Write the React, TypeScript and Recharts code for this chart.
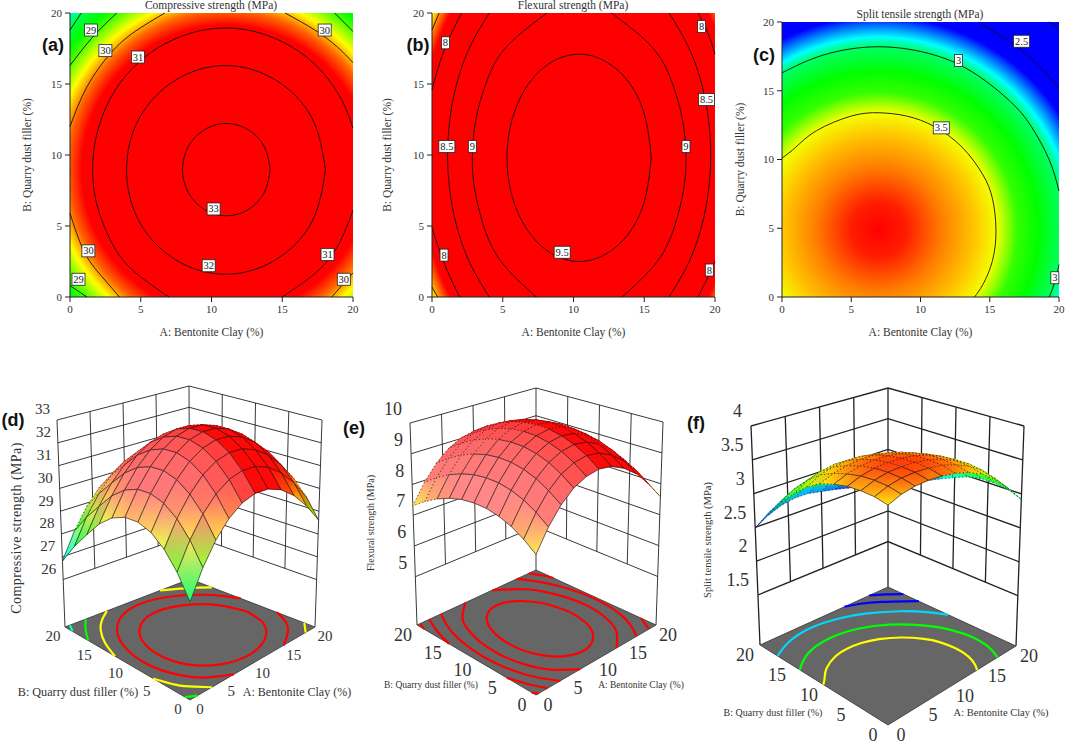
import { ScatterChart, Scatter, XAxis, YAxis, ReferenceArea, Curve } from 'recharts';

const SERIF = "'Liberation Serif', 'Times New Roman', serif";
const SANS = "'Liberation Sans', Arial, sans-serif";

type Pair = [number, number];

const AXIS_TICKS = [0, 5, 10, 15, 20];
const GRID_STEPS = [0, 2, 4, 6, 8, 10, 12, 14, 16, 18, 20];

// ── contour lines, as [A, B] ──
const A_RING_33: Pair[] = [[14.15, 8.97], [13.73, 10.6], [12.6, 11.78], [11.05, 12.22], [9.5, 11.78], [8.37, 10.6], [7.95, 8.97], [8.37, 7.35], [9.5, 6.16], [11.05, 5.72], [12.6, 6.16], [13.73, 7.35], [14.15, 8.97]];
const A_RING_32: Pair[] = [[18.05, 8.95], [17.1, 12.6], [14.5, 15.3], [11, 16.3], [7.5, 15.3], [4.9, 12.6], [4, 8.95], [4.9, 5.3], [7.5, 2.6], [11, 1.6], [14.5, 2.6], [17.1, 5.3], [18.05, 8.95]];
const A_RING_31: Pair[] = [[20, 11.9], [19.14, 14], [17.65, 16.04], [15.7, 17.6], [13.4, 18.6], [11, 18.95], [8.6, 18.6], [6.3, 17.6], [4.35, 16.04], [2.86, 14], [1.9, 11.5], [1.6, 9], [1.9, 6.5], [2.86, 4], [4.35, 1.96], [7, 0]];
const A_RING_31B: Pair[] = [[15, 0], [17.65, 1.96], [19.14, 4], [20, 6.1]];
const A_30_TL: Pair[] = [[0, 12], [1.2, 14.8], [2.9, 17.2], [4.6, 18.7], [6.7, 20]];
const A_30_TR: Pair[] = [[15.2, 20], [17.3, 18.8], [18.9, 17.6], [20, 16.5]];
const A_30_BL: Pair[] = [[0, 5.9], [1, 3.2], [2.2, 1.5], [3.5, 0]];
const A_30_BR: Pair[] = [[18.5, 0], [19.2, 0.8], [20, 1.7]];
const A_29_TL: Pair[] = [[0, 16.3], [1.6, 18.3], [3.3, 20]];
const A_29_TR: Pair[] = [[18.7, 20], [20, 18.7]];
const A_29_BL: Pair[] = [[0, 0.8], [1.2, 0]];
const A_28_TL: Pair[] = [[0, 18.8], [0.8, 20]];

const B_RING_95: Pair[] = [[15.5, 9.8], [14.82, 13.45], [12.95, 16.12], [10.4, 17.1], [7.85, 16.12], [5.98, 13.45], [5.3, 9.8], [5.98, 6.15], [7.85, 3.48], [10.4, 2.5], [12.95, 3.48], [14.82, 6.15], [15.5, 9.8]];
const B_RING_9L: Pair[] = [[8.12, 20], [5.16, 17.5], [3.8, 15], [3.1, 12.5], [2.85, 9.8], [3.03, 7.5], [3.65, 5], [4.88, 2.5], [7.37, 0]];
const B_RING_9R: Pair[] = [[12.68, 20], [15.64, 17.5], [17, 15], [17.7, 12.5], [17.95, 9.8], [17.77, 7.5], [17.15, 5], [15.92, 2.5], [13.43, 0]];
const B_RING_85L: Pair[] = [[4.05, 20], [2.67, 17.6], [1.74, 15], [1.26, 12.5], [1.1, 10], [1.26, 7.5], [1.74, 5], [2.67, 2.4], [4.05, 0]];
const B_RING_85R: Pair[] = [[16.75, 20], [18.13, 17.6], [19.06, 15], [19.54, 12.5], [19.7, 10], [19.54, 7.5], [19.06, 5], [18.13, 2.4], [16.75, 0]];
const B_8_TL: Pair[] = [[0, 14.6], [0.9, 17.5], [2.1, 20]];
const B_8_BL: Pair[] = [[0, 4.9], [0.85, 2.4], [1.95, 0]];
const B_8_TR: Pair[] = [[18.8, 20], [19.5, 18.6], [20, 17.1]];
const B_8_BR: Pair[] = [[18.8, 0], [19.4, 1.2], [20, 2.5]];
const B_75_TL: Pair[] = [[0, 18.8], [0.5, 20]];
const B_75_BL: Pair[] = [[0, 0.7], [0.4, 0]];

const C_RING_35: Pair[] = [[0, 10.1], [1, 10.9], [2.5, 12.1], [5, 13.16], [7, 13.4], [9, 13.16], [11, 12.4], [13, 10.9], [14.5, 8.9], [15.2, 7.14], [15.45, 4.9], [15.2, 2.66], [14.5, 0.9], [13.9, 0]];
const C_RING_3: Pair[] = [[0, 16.3], [3, 17.6], [7, 18.2], [11, 17.6], [14, 16.2], [16.5, 14.2], [18, 12.4], [19.3, 9.96], [20, 7.7]];
const C_RING_3B: Pair[] = [[19.3, 0], [19.7, 1.1], [20, 2.35]];
const C_RING_25: Pair[] = [[14.2, 20], [16, 18.85], [18, 17.33], [20, 15.2]];
const C_RING_2: Pair[] = [[19.3, 20], [20, 19.6]];

// floor-only contours of the split tensile surface
const F_RING_G: Pair[] = [[0, 13.8], [3, 15.5], [7, 16.2], [11, 15.5], [14, 13.8], [16, 11.7], [17.5, 9.1], [18.2, 6.4], [18.3, 4.9], [18, 2.3], [17.1, 0]];
const F_RING_C: Pair[] = [[0, 17.25], [3, 18.5], [7, 19.1], [11, 18.5], [14, 17.25], [17, 15], [19, 12.5], [20, 10.6]];
const F_RING_B1: Pair[] = [[13.2, 20], [15, 19.3], [17, 18], [19, 16.2], [20, 15.2]];
const F_RING_B2: Pair[] = [[17.1, 20], [18.5, 19], [20, 17.6]];

// ── contour labels: [A, B, text] ──
const A_LABELS: [number, number, string][] = [[1.48, 18.8, '29'], [2.5, 17.35, '30'], [4.8, 16.9, '31'], [10.15, 6.2, '33'], [9.8, 2.2, '32'], [1.3, 3.25, '30'], [0.6, 1.25, '29'], [18, 18.8, '30'], [18.2, 3, '31'], [19.35, 1.25, '30']];
const B_LABELS: [number, number, string][] = [[0.95, 17.9, '8'], [1.05, 10.6, '8.5'], [2.85, 10.6, '9'], [17.95, 10.6, '9'], [19.4, 13.9, '8.5'], [19.05, 19.05, '8'], [0.85, 2.95, '8'], [9.2, 3.15, '9.5'], [19.6, 1.9, '8']];
const C_LABELS: [number, number, string][] = [[17.3, 18.6, '2.5'], [12.75, 17.2, '3'], [11.5, 12.3, '3.5'], [19.7, 1.4, '3']];

// ── response level at a distance from the optimum, for the shaded background ──
const A_RADII = [0, 7.2, 10.2, 11.2, 12.2, 13.3, 14, 15, 15.6, 16.4];
const A_HEAT = [33.3, 32, 30.8, 30.35, 29.68, 28.9, 28.55, 28.2, 27.65, 27.2];
const B_RADII = [0, 1.22, 1.28, 1.335, 1.4];
const B_HEAT = [9.9, 7.8, 7.65, 7.5, 7.3];
const C_RADII = [0, 2, 4.5, 7, 8.5, 10, 11.5, 13.3, 14, 15, 15.5, 24];
const C_HEAT = [3.72, 3.69, 3.59, 3.51, 3.44, 3.24, 3.185, 3.08, 2.92, 2.74, 2.65, 2.5];

// ── surface heights, rows are B = 0..20, columns A = 0..20 ──
const D_SURFACE = [
  [27.54, 28.61, 29.46, 30.1, 30.53, 30.74, 30.74, 30.53, 30.1, 29.46, 28.61],
  [28.44, 29.46, 30.28, 30.89, 31.3, 31.5, 31.5, 31.3, 30.89, 30.28, 29.46],
  [29.11, 30.1, 30.89, 31.49, 31.88, 32.08, 32.08, 31.88, 31.49, 30.89, 30.1],
  [29.56, 30.53, 31.3, 31.88, 32.27, 32.46, 32.46, 32.27, 31.88, 31.3, 30.53],
  [29.78, 30.74, 31.5, 32.08, 32.46, 32.65, 32.65, 32.46, 32.08, 31.5, 30.74],
  [29.78, 30.74, 31.5, 32.08, 32.46, 32.65, 32.65, 32.46, 32.08, 31.5, 30.74],
  [29.56, 30.53, 31.3, 31.88, 32.27, 32.46, 32.46, 32.27, 31.88, 31.3, 30.53],
  [29.11, 30.1, 30.89, 31.49, 31.88, 32.08, 32.08, 31.88, 31.49, 30.89, 30.1],
  [28.44, 29.46, 30.28, 30.89, 31.3, 31.5, 31.5, 31.3, 30.89, 30.28, 29.46],
  [27.71, 28.78, 29.63, 30.27, 30.7, 30.91, 30.91, 30.7, 30.27, 29.63, 28.78],
  [26.81, 27.93, 28.83, 29.5, 29.95, 30.17, 30.17, 29.95, 29.5, 28.83, 27.93],
];
const E_SURFACE = [
  [7.31, 7.94, 8.44, 8.8, 9.02, 9.12, 9.08, 8.9, 8.6, 8.15, 7.58],
  [7.6, 8.23, 8.73, 9.09, 9.31, 9.41, 9.37, 9.19, 8.89, 8.44, 7.87],
  [7.83, 8.46, 8.96, 9.32, 9.54, 9.64, 9.6, 9.42, 9.12, 8.67, 8.1],
  [7.99, 8.62, 9.12, 9.48, 9.7, 9.8, 9.76, 9.58, 9.28, 8.83, 8.26],
  [8.09, 8.72, 9.22, 9.58, 9.8, 9.9, 9.86, 9.68, 9.38, 8.93, 8.36],
  [8.12, 8.75, 9.25, 9.61, 9.83, 9.93, 9.89, 9.71, 9.41, 8.96, 8.39],
  [8.09, 8.72, 9.22, 9.58, 9.8, 9.9, 9.86, 9.68, 9.38, 8.93, 8.36],
  [7.99, 8.62, 9.12, 9.48, 9.7, 9.8, 9.76, 9.58, 9.28, 8.83, 8.26],
  [7.83, 8.46, 8.96, 9.32, 9.54, 9.64, 9.6, 9.42, 9.12, 8.67, 8.1],
  [7.6, 8.23, 8.73, 9.09, 9.31, 9.41, 9.37, 9.19, 8.89, 8.44, 7.87],
  [7.31, 7.94, 8.44, 8.8, 9.02, 9.12, 9.08, 8.9, 8.6, 8.15, 7.58],
];
const F_SURFACE = [
  [3.49, 3.57, 3.62, 3.64, 3.64, 3.62, 3.57, 3.49, 3.34, 3.15, 2.92],
  [3.54, 3.62, 3.67, 3.69, 3.69, 3.67, 3.62, 3.54, 3.42, 3.23, 3.0],
  [3.56, 3.64, 3.69, 3.71, 3.71, 3.69, 3.64, 3.56, 3.45, 3.26, 3.03],
  [3.56, 3.64, 3.69, 3.71, 3.71, 3.69, 3.64, 3.56, 3.45, 3.26, 3.03],
  [3.53, 3.61, 3.66, 3.69, 3.69, 3.66, 3.61, 3.53, 3.41, 3.22, 2.99],
  [3.48, 3.56, 3.61, 3.64, 3.64, 3.61, 3.56, 3.48, 3.33, 3.14, 2.91],
  [3.37, 3.48, 3.53, 3.56, 3.56, 3.53, 3.48, 3.37, 3.22, 3.03, 2.82],
  [3.21, 3.33, 3.4, 3.44, 3.44, 3.4, 3.33, 3.21, 3.06, 2.86, 2.72],
  [3.02, 3.14, 3.21, 3.25, 3.25, 3.21, 3.14, 3.02, 2.86, 2.72, 2.62],
  [2.78, 2.9, 2.98, 3.02, 3.02, 2.98, 2.9, 2.78, 2.7, 2.6, 2.5],
  [2.49, 2.61, 2.69, 2.73, 2.73, 2.69, 2.65, 2.6, 2.55, 2.48, 2.4],
];
const D_Z_TICKS = [26, 27, 28, 29, 30, 31, 32, 33];
const E_Z_TICKS = [5, 6, 7, 8, 9, 10];
const F_Z_TICKS = [1.5, 2, 2.5, 3, 3.5, 4];

const RAMP = [[0, 0, 255], [0, 255, 255], [0, 255, 0], [255, 255, 0], [255, 0, 0]];
const rampT = (v: number, lo: number, hi: number) => Math.min(1, Math.max(0, (v - lo) / (hi - lo)));
const rampRgb = (v: number, lo: number, hi: number) => {
  const t = rampT(v, lo, hi) * 4;
  const i = Math.min(3, Math.floor(t));
  return RAMP[i].map((c, k) => c + (RAMP[i + 1][k] - c) * (t - i));
};
const css = (c: number[]) => `rgb(${c.map(Math.round).join(',')})`;
const whiten = (c: number[], w: number) => c.map((k) => k + (255 - k) * w);

const toPts = (p: Pair[]) => p.map(([x, y]) => ({ x, y }));
const Nothing = () => null;

function ContourLabel({ cx, cy, payload }: any) {
  const w = payload.t.length > 2 ? 16 : payload.t.length > 1 ? 13 : 8;
  return (
    <g>
      <rect x={cx - w / 2} y={cy - 6} width={w} height={12} fill="#fff" stroke="#222" strokeWidth={0.8} />
      <text x={cx} y={cy + 3.5} textAnchor="middle" fontSize={10.5} fontFamily={SERIF} fill="#222">{payload.t}</text>
    </g>
  );
}

// ── contour plot ──
function ContourPlot({ id, left, margin, width, title, titleX, titleY, labelOffset, yWidth, rings, labels, radii, heat, lo, hi, center, aspect }: any) {
  const R = radii[radii.length - 1];
  const transform = `translate(${center[0] / 20} ${1 - center[1] / 20}) scale(${(aspect[0] * R) / 20} ${(aspect[1] * R) / 20})`;
  return (
    <div style={{ position: 'absolute', left, top: 0 }}>
      <ScatterChart width={width} height={345} margin={margin}>
        <defs>
          <radialGradient id={id} cx={0} cy={0} r={1} gradientTransform={transform}>
            {radii.map((r: number, i: number) => <stop key={r} offset={r / R} stopColor={css(rampRgb(heat[i], lo, hi))} />)}
          </radialGradient>
        </defs>
        <XAxis type="number" dataKey="x" domain={[0, 20]} ticks={AXIS_TICKS} height={40} tickSize={5} tickMargin={3} interval={0}
          stroke="#222" tick={{ fontSize: 11, fontFamily: SERIF, fill: '#333' }}
          label={{ value: 'A: Bentonite Clay (%)', position: 'insideBottom', offset: 1, fontSize: 11.5, fontFamily: SERIF, fill: '#333' }} />
        <YAxis type="number" dataKey="y" domain={[0, 20]} ticks={AXIS_TICKS} width={yWidth} tickSize={5} tickMargin={3} interval={0}
          stroke="#222" tick={{ fontSize: 11, fontFamily: SERIF, fill: '#333' }}
          label={{ value: 'B: Quarry dust filler (%)', angle: -90, position: 'insideLeft', offset: labelOffset, fontSize: 11.5, fontFamily: SERIF, fill: '#333', textAnchor: 'middle' }} />
        <ReferenceArea x1={0} x2={20} y1={0} y2={20} fill={`url(#${id})`} fillOpacity={1} stroke="none" />
        {rings.map((r: Pair[], i: number) => (
          <Scatter key={i} data={toPts(r)} shape={Nothing} line={{ stroke: '#111', strokeWidth: 0.9 }} lineJointType="natural" isAnimationActive={false} />
        ))}
        <Scatter data={labels.map(([x, y, t]: any) => ({ x, y, t }))} shape={ContourLabel} isAnimationActive={false} />
        <text x={titleX} y={titleY} textAnchor="middle" fontSize={11.5} fontFamily={SERIF} fill="#333">{title}</text>
      </ScatterChart>
    </div>
  );
}

// ── 3D surface: everything is projected into a plane whose units are the chart's pixels ──
type Box = {
  front: number[]; left: number[]; right: number[]; back: number[];
  topFront: number[]; topLeft: number[]; topRight: number[]; topBack: number[];
  zFloor: number; zTop: number;
};

const bilinear = (p00: number[], p10: number[], p01: number[], p11: number[], u: number, v: number) =>
  [0, 1].map((k) => p00[k] * (1 - u) * (1 - v) + p10[k] * u * (1 - v) + p01[k] * (1 - u) * v + p11[k] * u * v);

const project = (box: Box, a: number, b: number, z: number) => {
  const f = bilinear(box.front, box.right, box.left, box.back, a / 20, b / 20);
  const t = bilinear(box.topFront, box.topRight, box.topLeft, box.topBack, a / 20, b / 20);
  const h = (z - box.zFloor) / (box.zTop - box.zFloor);
  return { x: f[0] + (t[0] - f[0]) * h, y: f[1] + (t[1] - f[1]) * h };
};

function Mark3D({ cx, cy, payload: m }: any) {
  const dx = cx - m.x;
  const dy = cy - m.y;
  if (m.kind === 'text') {
    return (
      <text x={cx} y={cy} textAnchor={m.anchor ?? 'middle'} dominantBaseline="middle" fontSize={m.size} fontFamily={SERIF} fill={m.fill ?? '#333'}
        letterSpacing={m.spacing} transform={m.angle ? `rotate(${m.angle} ${cx} ${cy})` : undefined}>{m.text}</text>
    );
  }
  const pts = m.pts.map((p: any) => ({ x: p.x + dx, y: p.y + dy }));
  if (m.kind === 'curve') return <Curve type="natural" points={pts} stroke={m.stroke} strokeWidth={m.width} fill="none" />;
  const d = pts.map((p: any) => `${p.x},${p.y}`).join(' ');
  if (m.kind === 'line') return <polyline points={d} fill="none" stroke={m.stroke} strokeWidth={m.width} />;
  if (m.kind === 'floor') return <polygon points={d} fill="#666" stroke="#333" strokeWidth={0.8} />;
  return (
    <g>
      <linearGradient id={m.id} gradientUnits="userSpaceOnUse" x1={m.from.x + dx} y1={m.from.y + dy} x2={m.to.x + dx} y2={m.to.y + dy}>
        <stop offset="0" stopColor={m.c0} />
        <stop offset="1" stopColor={m.c1} />
      </linearGradient>
      <polygon points={d} fill={`url(#${m.id})`} stroke={`url(#${m.id})`} strokeWidth={0.5} />
      <polygon points={d} fill="none" stroke="#111" strokeWidth={m.far ? 0.7 : 0.6} strokeDasharray={m.far ? '1.2 2.4' : undefined} />
    </g>
  );
}

function buildMarks(id: string, box: Box, table: number[][], zTicks: number[], lo: number, hi: number, light: number, farFrom: number, rings: { p: Pair[]; c: string }[], cageWidth: number, tickSize: number, aOff: number[], bOff: number[], zOff: number[]) {
  const marks: any[] = [];
  const line = (pts: any[], stroke = '#222', width = cageWidth) => marks.push({ kind: 'line', x: pts[0].x, y: pts[0].y, pts, stroke, width });
  const zLow = zTicks[0];

  // back walls
  zTicks.forEach((z) => line([project(box, 0, 20, z), project(box, 20, 20, z), project(box, 20, 0, z)]));
  [5, 10, 15].forEach((t) => {
    line([project(box, t, 20, zLow), project(box, t, 20, box.zTop)]);
    line([project(box, 20, t, zLow), project(box, 20, t, box.zTop)]);
  });
  [[0, 20], [20, 20], [20, 0]].forEach(([a, b]) => line([project(box, a, b, box.zFloor), project(box, a, b, box.zTop)]));

  // floor and its contours
  const corners = [[0, 0], [20, 0], [20, 20], [0, 20]].map(([a, b]) => project(box, a, b, box.zFloor));
  marks.push({ kind: 'floor', x: corners[0].x, y: corners[0].y, pts: corners });
  rings.forEach((r) => {
    const pts = r.p.map(([a, b]) => project(box, a, b, box.zFloor));
    marks.push({ kind: 'curve', x: pts[0].x, y: pts[0].y, pts, stroke: r.c, width: 2.2 });
  });

  // surface facets, far corner first
  const cells: { i: number; j: number }[] = [];
  for (let i = 0; i < 10; i++) for (let j = 0; j < 10; j++) cells.push({ i, j });
  cells.sort((p, q) => q.i + q.j - (p.i + p.j));
  let maxSlope = 0;
  cells.forEach(({ i, j }) => { maxSlope = Math.max(maxSlope, table[j][i + 1] - table[j][i]); });
  cells.forEach(({ i, j }, n) => {
    const corner = [[i, j], [i + 1, j], [i + 1, j + 1], [i, j + 1]].map(([ci, cj]) => ({
      z: table[cj][ci], ...project(box, GRID_STEPS[ci], GRID_STEPS[cj], table[cj][ci]),
    }));
    const sorted = [...corner].sort((p, q) => p.z - q.z);
    const slope = Math.max(0, (table[j][i + 1] - table[j][i] + table[j + 1][i + 1] - table[j + 1][i]) / 2) / maxSlope;
    const shade = (z: number) => {
      const t = rampT(z, lo, hi);
      return css(whiten(rampRgb(z, lo, hi), 0.03 + light * Math.sqrt(slope) * t * t));
    };
    marks.push({
      kind: 'facet', id: `${id}-${n}`, x: corner[0].x, y: corner[0].y, pts: corner,
      from: sorted[0], to: sorted[3], c0: shade(sorted[0].z), c1: shade(sorted[3].z),
      far: i + j > farFrom,
    });
  });

  // tick labels
  const text = (p: any, off: number[], t: string, anchor = 'middle') =>
    marks.push({ kind: 'text', x: p.x + off[0], y: p.y + off[1], text: t, size: tickSize, anchor });
  zTicks.forEach((z) => text(project(box, 0, 20, z), zOff, String(z), 'end'));
  AXIS_TICKS.forEach((t) => {
    text(project(box, t, 0, box.zFloor), aOff, String(t));
    text(project(box, 0, t, box.zFloor), bOff, String(t));
  });
  return marks;
}

function Surface3D({ marks, labels }: any) {
  const all = [...marks, ...labels.map((l: any) => ({ kind: 'text', ...l }))];
  return (
    <div style={{ position: 'absolute', left: 0, top: 0 }}>
      <ScatterChart width={1065} height={746} margin={{ top: 0, right: 0, bottom: 0, left: 0 }}>
        <XAxis type="number" dataKey="x" domain={[0, 1065]} hide />
        <YAxis type="number" dataKey="y" domain={[0, 746]} reversed hide />
        <Scatter data={all} shape={Mark3D} isAnimationActive={false} />
      </ScatterChart>
    </div>
  );
}

const BOX_D: Box = { front: [190, 700], left: [65, 627], right: [315, 627], back: [190, 579], topFront: [190, 454], topLeft: [57, 420], topRight: [322, 420], topBack: [189, 386], zFloor: 23.92, zTop: 33 };
const BOX_E: Box = { front: [536, 695], left: [417, 625], right: [656, 625], back: [536, 570], topFront: [536, 457], topLeft: [410, 423], topRight: [663, 422], topBack: [536, 388], zFloor: 3.43, zTop: 10 };
const BOX_F: Box = { front: [888, 725], left: [760, 645], right: [1016, 646], back: [888, 587], topFront: [888, 464], topLeft: [751, 426], topRight: [1024, 426], topBack: [888, 388], zFloor: 0.76, zTop: 4 };

const D_MARKS = buildMarks('d', BOX_D, D_SURFACE, D_Z_TICKS, 25.5, 30.5, 0.52, 9, [
  { p: A_RING_32, c: '#ff0000' }, { p: A_RING_31, c: '#ff0000' }, { p: A_RING_31B, c: '#ff0000' },
  { p: A_30_TL, c: '#ffff00' }, { p: A_30_TR, c: '#ffff00' }, { p: A_30_BL, c: '#ffff00' }, { p: A_30_BR, c: '#ffff00' },
  { p: A_29_TL, c: '#00ff00' }, { p: A_29_TR, c: '#00ff00' }, { p: A_29_BL, c: '#00ff00' }, { p: A_28_TL, c: '#00ffc0' },
], 0.9, 15, [10, 11], [-12, 11], [-7, -9]);
const E_MARKS = buildMarks('e', BOX_E, E_SURFACE, E_Z_TICKS, 4.8, 8, 0.5, 7, [
  { p: B_RING_95, c: '#ff0000' }, { p: B_RING_9L, c: '#ff0000' }, { p: B_RING_9R, c: '#ff0000' },
  { p: B_RING_85L, c: '#ff0000' }, { p: B_RING_85R, c: '#ff0000' }, { p: B_8_TL, c: '#ff0000' }, { p: B_8_BL, c: '#ff0000' },
  { p: B_8_TR, c: '#ff0000' }, { p: B_8_BR, c: '#ff0000' }, { p: B_75_TL, c: '#ff0000' }, { p: B_75_BL, c: '#ff0000' },
], 0.9, 18, [12, 12], [-14, 12], [-8, -12]);
const F_MARKS = buildMarks('f', BOX_F, F_SURFACE, F_Z_TICKS, 2.5, 3.78, 0.05, 3, [
  { p: C_RING_35, c: '#ffff00' }, { p: F_RING_G, c: '#00ff00' }, { p: F_RING_C, c: '#00d8ff' },
  { p: F_RING_B1, c: '#0000ff' }, { p: F_RING_B2, c: '#0000ff' },
], 1.3, 18, [13, 12], [-15, 12], [-9, -13]);

const D_LABELS = [
  { x: 78, y: 693, text: 'B: Quarry dust filler (%)', size: 12.2 },
  { x: 297, y: 693, text: 'A: Bentonite Clay (%)', size: 12 },
  { x: 18, y: 528, text: 'Compressive strength (MPa)', size: 14, angle: -90, spacing: 0.4 },
];
const E_LABELS = [
  { x: 431, y: 686, text: 'B: Quarry dust filler (%)', size: 9.5 },
  { x: 641, y: 686, text: 'A: Bentonite Clay (%)', size: 9.5 },
  { x: 372, y: 523, text: 'Flexural strength (MPa)', size: 10, angle: -90 },
];
const F_LABELS = [
  { x: 773, y: 714, text: 'B: Quarry dust filler (%)', size: 10 },
  { x: 1001, y: 714, text: 'A: Bentonite Clay (%)', size: 10.5 },
  { x: 709, y: 540, text: 'Split tensile strength (MPa)', size: 10.5, angle: -90 },
];

const LETTERS: [string, number, number][] = [['(a)', 53, 45], ['(b)', 418, 45], ['(c)', 764, 55], ['(d)', 13, 420], ['(e)', 354, 428], ['(f)', 696, 423]];

export default function App() {
  return (
    <div style={{ position: 'absolute', left: 0, top: 0, width: 1065, height: 746, background: '#fff', overflow: 'hidden' }}>
      <Surface3D marks={D_MARKS} labels={D_LABELS} />
      <Surface3D marks={E_MARKS} labels={E_LABELS} />
      <Surface3D marks={F_MARKS} labels={F_LABELS} />
      <ContourPlot id="heatA" left={0} width={360} margin={{ top: 13, right: 7, bottom: 8, left: 15 }} yWidth={55} labelOffset={12}
        title="Compressive strength (MPa)" titleX={211} titleY={9}
        rings={[A_RING_33, A_RING_32, A_RING_31, A_RING_31B, A_30_TL, A_30_TR, A_30_BL, A_30_BR, A_29_TL, A_29_TR, A_29_BL, A_28_TL]}
        labels={A_LABELS} radii={A_RADII} heat={A_HEAT} lo={26.3} hi={30.8} center={[11.03, 8.95]} aspect={[1, 1]} />
      <ContourPlot id="heatB" left={360} width={370} margin={{ top: 13, right: 15, bottom: 8, left: 17 }} yWidth={55} labelOffset={10}
        title="Flexural strength (MPa)" titleX={213} titleY={9}
        rings={[B_RING_95, B_RING_9L, B_RING_9R, B_RING_85L, B_RING_85R, B_8_TL, B_8_BL, B_8_TR, B_8_BR, B_75_TL, B_75_BL]}
        labels={B_LABELS} radii={B_RADII} heat={B_HEAT} lo={6.6} hi={7.8} center={[10.4, 10]} aspect={[9.3, 13.7]} />
      <ContourPlot id="heatC" left={730} width={335} margin={{ top: 22, right: 6, bottom: 8, left: 7 }} yWidth={45} labelOffset={3}
        title="Split tensile strength (MPa)" titleX={190} titleY={18}
        rings={[C_RING_35, C_RING_3, C_RING_3B, C_RING_25, C_RING_2]}
        labels={C_LABELS} radii={C_RADII} heat={C_HEAT} lo={2.65} hi={3.72} center={[7, 4.9]} aspect={[1, 1]} />
      {LETTERS.map(([t, x, y]) => (
        <div key={t} style={{ position: 'absolute', left: x - 30, top: y - 12, width: 60, textAlign: 'center', font: `bold 18px/24px ${SANS}`, color: '#111' }}>{t}</div>
      ))}
    </div>
  );
}
